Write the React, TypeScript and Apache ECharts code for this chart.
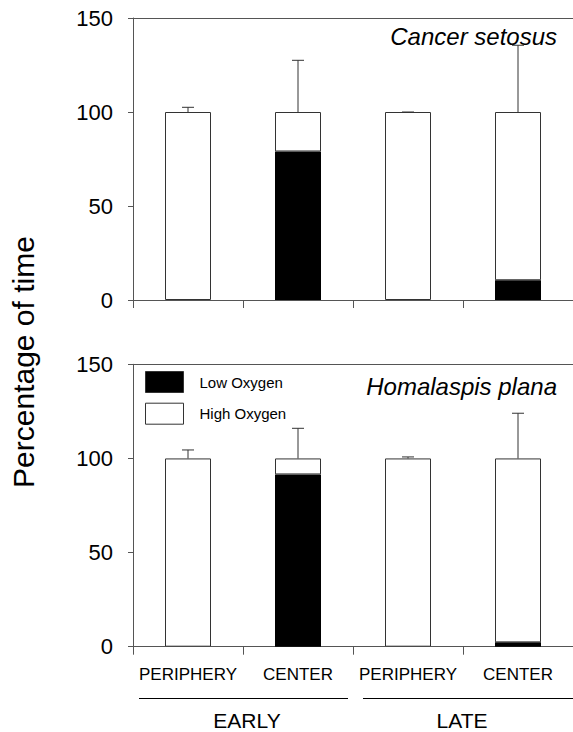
import React, { useEffect, useRef } from "react";
import * as echarts from "echarts";

const categories = ["PERIPHERY", "CENTER", "PERIPHERY", "CENTER"];
const yTicks = [0, 50, 100, 150];

// Cancer setosus (top panel)
const topLow = [0, 79, 0, 10.5];
const topHigh = [100, 21, 100, 89.5];
const topErrUpper = [102.5, 127.5, 100, 135.5];

// Homalaspis plana (bottom panel)
const botLow = [0, 91.5, 0, 2.3];
const botHigh = [100, 8.5, 100, 97.7];
const botErrUpper = [104.5, 116, 100.8, 124];

const FONT = "'Liberation Sans', Arial, sans-serif";
const AXIS = "#555";
const EDGE = "#333";

export default function App() {
  const ref = useRef<HTMLDivElement>(null);
  useEffect(() => {
    if (!ref.current) return;
    const chart = echarts.init(ref.current, undefined, { renderer: "svg" });

    const grids = [
      { left: 133, top: 18, width: 444, height: 282 },
      { left: 133, top: 364.3, width: 444, height: 282.4 },
    ];

    const xAxes: any[] = [];
    const yAxes: any[] = [];
    [0, 1].forEach((g) => {
      xAxes.push({
        type: "category",
        gridIndex: g,
        data: categories,
        position: "bottom",
        axisLine: { show: true, lineStyle: { color: AXIS, width: 1 } },
        axisTick: { show: true, length: 8, alignWithLabel: false, lineStyle: { color: AXIS } },
        axisLabel: {
          show: g === 1,
          margin: 19,
          color: "#000",
          fontFamily: FONT,
          fontSize: 17,
          interval: 0,
        },
        splitLine: { show: false },
      });
      xAxes.push({
        type: "category",
        gridIndex: g,
        data: categories,
        position: "top",
        axisLine: { show: true, lineStyle: { color: AXIS, width: 1 } },
        axisTick: { show: false },
        axisLabel: { show: false },
        splitLine: { show: false },
      });
      yAxes.push({
        type: "value",
        gridIndex: g,
        min: yTicks[0],
        max: yTicks[yTicks.length - 1],
        interval: 50,
        axisLine: { show: true, lineStyle: { color: AXIS, width: 1 } },
        axisTick: { show: true, length: 5, lineStyle: { color: AXIS } },
        axisLabel: { color: "#000", fontFamily: FONT, fontSize: 22, margin: 20 },
        splitLine: { show: false },
      });
    });

    const errSeries = (g: number, low: number[], high: number[], up: number[]) => ({
      type: "custom",
      xAxisIndex: g * 2,
      yAxisIndex: g,
      z: 5,
      silent: true,
      data: up.map((u, i) => [i, low[i] + high[i], u]),
      renderItem: (params: any, api: any) => {
        const x = api.value(0);
        const p0 = api.coord([x, api.value(1)]);
        const p1 = api.coord([x, api.value(2)]);
        const half = 6;
        return {
          type: "group",
          children: [
            { type: "line", shape: { x1: p0[0], y1: p0[1], x2: p1[0], y2: p1[1] }, style: { stroke: EDGE, lineWidth: 1 } },
            { type: "line", shape: { x1: p1[0] - half, y1: p1[1], x2: p1[0] + half, y2: p1[1] }, style: { stroke: EDGE, lineWidth: 1 } },
          ],
        };
      },
    });

    const barPair = (g: number, low: number[], high: number[]) => [
      {
        name: "Low Oxygen",
        type: "bar",
        xAxisIndex: g * 2,
        yAxisIndex: g,
        stack: "s" + g,
        barWidth: 46,
        data: low,
        itemStyle: { color: "#000", borderColor: "#000", borderWidth: 0 },
      },
      {
        name: "High Oxygen",
        type: "bar",
        xAxisIndex: g * 2,
        yAxisIndex: g,
        stack: "s" + g,
        barWidth: 46,
        data: high,
        itemStyle: { color: "#fff", borderColor: EDGE, borderWidth: 1 },
      },
    ];

    const legendBase = {
      orient: "vertical",
      left: 140,
      itemWidth: 38,
      itemHeight: 21,
      selectedMode: false,
      textStyle: { fontFamily: FONT, fontSize: 15, color: "#000", padding: [12, 0, 0, 11] },
    };

    chart.setOption({
      animation: false,
      backgroundColor: "#fff",
      grid: grids,
      xAxis: xAxes,
      yAxis: yAxes,
      legend: [
        { ...legendBase, top: 366, data: [{ name: "Low Oxygen", icon: "rect", itemStyle: { color: "#000", borderColor: EDGE, borderWidth: 1 } }] },
        { ...legendBase, top: 397.7, data: [{ name: "High Oxygen", icon: "rect", itemStyle: { color: "#fff", borderColor: EDGE, borderWidth: 1 } }] },
      ],
      series: [
        ...barPair(0, topLow, topHigh),
        errSeries(0, topLow, topHigh, topErrUpper),
        ...barPair(1, botLow, botHigh),
        errSeries(1, botLow, botHigh, botErrUpper),
      ],
      graphic: [
        {
          type: "text",
          x: 557,
          y: 36,
          style: { text: "Cancer setosus", font: `italic 24px ${FONT}`, fill: "#000", align: "right", verticalAlign: "middle" },
        },
        {
          type: "text",
          x: 557,
          y: 386,
          style: { text: "Homalaspis plana", font: `italic 24px ${FONT}`, fill: "#000", align: "right", verticalAlign: "middle" },
        },
        {
          type: "text",
          x: 23,
          y: 362,
          rotation: Math.PI / 2,
          style: { text: "Percentage of time", font: `30px ${FONT}`, fill: "#000", align: "center", verticalAlign: "middle" },
        },
        { type: "line", shape: { x1: 139, y1: 698.5, x2: 348, y2: 698.5 }, style: { stroke: "#000", lineWidth: 1 } },
        { type: "line", shape: { x1: 363, y1: 698.5, x2: 573, y2: 698.5 }, style: { stroke: "#000", lineWidth: 1 } },
        {
          type: "text",
          x: 247,
          y: 720,
          style: { text: "EARLY", font: `21px ${FONT}`, fill: "#000", align: "center", verticalAlign: "middle" },
        },
        {
          type: "text",
          x: 462,
          y: 720,
          style: { text: "LATE", font: `21px ${FONT}`, fill: "#000", align: "center", verticalAlign: "middle" },
        },
      ],
    });
    return () => chart.dispose();
  }, []);
  return <div ref={ref} style={{ position: "absolute", left: 0, top: 0, width: 573, height: 732 }} />;
}
